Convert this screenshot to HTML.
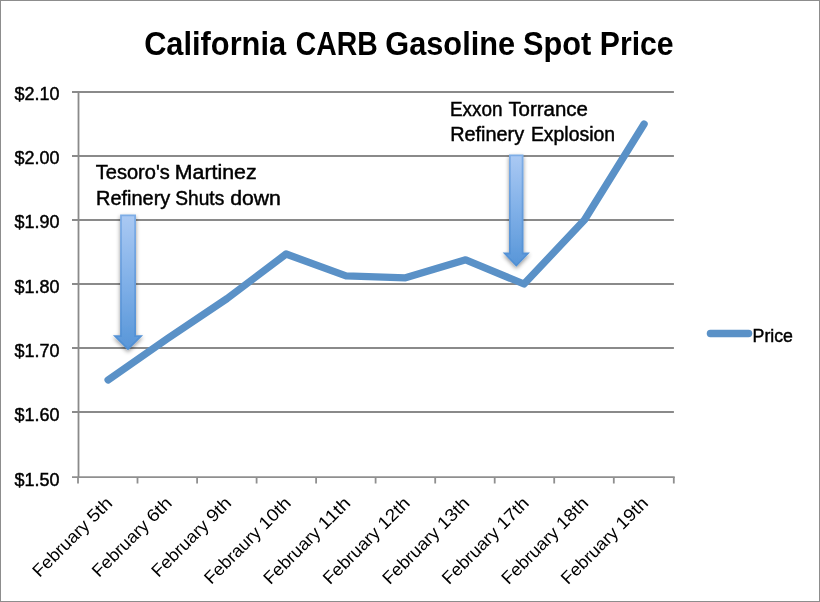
<!DOCTYPE html>
<html lang="en"><head><meta charset="utf-8"><title>California CARB Gasoline Spot Price</title>
<style>
html,body{margin:0;padding:0;background:#fff;}
body{width:820px;height:602px;overflow:hidden;}
svg{display:block;}
text{font-family:"Liberation Sans",sans-serif;fill:#000;}
.ax{font-size:17.6px;stroke:#000;stroke-width:0.45px;}
.an{font-size:19.5px;stroke:#000;stroke-width:0.45px;}
.ay{font-size:17.75px;stroke:#000;stroke-width:0.45px;}
.rx{font-size:17.6px;stroke:#000;stroke-width:0;}
.ti{font-size:32.5px;font-weight:bold;}
</style></head><body>
<svg width="820" height="602" viewBox="0 0 820 602">
<defs>
<linearGradient id="ag" x1="0" y1="0" x2="0" y2="1">
<stop offset="0" stop-color="#aac9f3"/><stop offset="0.5" stop-color="#80b0e8"/><stop offset="1" stop-color="#5896d8"/>
</linearGradient>
<linearGradient id="as" x1="0" y1="0" x2="0" y2="1">
<stop offset="0" stop-color="#7eade6"/><stop offset="0.5" stop-color="#669cdb"/><stop offset="1" stop-color="#4f8fd4"/>
</linearGradient>
<filter id="sh" x="-50%" y="-10%" width="200%" height="130%">
<feGaussianBlur in="SourceAlpha" stdDeviation="2"/><feOffset dx="0" dy="1.5"/>
<feComponentTransfer><feFuncA type="linear" slope="0.42"/></feComponentTransfer>
<feMerge><feMergeNode/><feMergeNode in="SourceGraphic"/></feMerge>
</filter>
</defs>
<rect x="0" y="0" width="820" height="602" fill="#fff"/>

<line x1="72.0" y1="412.00" x2="673.9" y2="412.00" stroke="#8a8a8a" stroke-width="2"/>
<line x1="72.0" y1="348.00" x2="673.9" y2="348.00" stroke="#8a8a8a" stroke-width="2"/>
<line x1="72.0" y1="284.00" x2="673.9" y2="284.00" stroke="#8a8a8a" stroke-width="2"/>
<line x1="72.0" y1="220.00" x2="673.9" y2="220.00" stroke="#8a8a8a" stroke-width="2"/>
<line x1="72.0" y1="156.00" x2="673.9" y2="156.00" stroke="#8a8a8a" stroke-width="2"/>
<line x1="72.0" y1="92.00" x2="673.9" y2="92.00" stroke="#8a8a8a" stroke-width="2"/>
<line x1="72.0" y1="477.05" x2="674.7" y2="477.05" stroke="#8f8f8f" stroke-width="1.8"/>
<line x1="78.5" y1="91" x2="78.5" y2="477.00" stroke="#8a8a8a" stroke-width="1.8"/>
<line x1="78.0" y1="477.0" x2="78.0" y2="483.5" stroke="#8f8f8f" stroke-width="1.8"/>
<line x1="137.5" y1="477.0" x2="137.5" y2="483.5" stroke="#8f8f8f" stroke-width="1.8"/>
<line x1="197.1" y1="477.0" x2="197.1" y2="483.5" stroke="#8f8f8f" stroke-width="1.8"/>
<line x1="256.6" y1="477.0" x2="256.6" y2="483.5" stroke="#8f8f8f" stroke-width="1.8"/>
<line x1="316.1" y1="477.0" x2="316.1" y2="483.5" stroke="#8f8f8f" stroke-width="1.8"/>
<line x1="375.6" y1="477.0" x2="375.6" y2="483.5" stroke="#8f8f8f" stroke-width="1.8"/>
<line x1="435.2" y1="477.0" x2="435.2" y2="483.5" stroke="#8f8f8f" stroke-width="1.8"/>
<line x1="494.7" y1="477.0" x2="494.7" y2="483.5" stroke="#8f8f8f" stroke-width="1.8"/>
<line x1="554.2" y1="477.0" x2="554.2" y2="483.5" stroke="#8f8f8f" stroke-width="1.8"/>
<line x1="613.8" y1="477.0" x2="613.8" y2="483.5" stroke="#8f8f8f" stroke-width="1.8"/>
<line x1="673.8" y1="477.0" x2="673.8" y2="483.5" stroke="#8f8f8f" stroke-width="1.8"/>
<text class="ay" y="485.62"><tspan x="14.57" textLength="44.93" lengthAdjust="spacingAndGlyphs">$1.50</tspan></text>
<text class="ay" y="421.30"><tspan x="14.57" textLength="44.93" lengthAdjust="spacingAndGlyphs">$1.60</tspan></text>
<text class="ay" y="356.98"><tspan x="14.57" textLength="44.93" lengthAdjust="spacingAndGlyphs">$1.70</tspan></text>
<text class="ay" y="292.66"><tspan x="14.57" textLength="44.93" lengthAdjust="spacingAndGlyphs">$1.80</tspan></text>
<text class="ay" y="228.34"><tspan x="14.57" textLength="44.93" lengthAdjust="spacingAndGlyphs">$1.90</tspan></text>
<text class="ay" y="164.02"><tspan x="14.57" textLength="44.93" lengthAdjust="spacingAndGlyphs">$2.00</tspan></text>
<text class="ay" y="99.70"><tspan x="14.57" textLength="44.93" lengthAdjust="spacingAndGlyphs">$2.10</tspan></text>
<g transform="translate(39.54,578.02) rotate(-45)">
<text class="rx" y="0.00"><tspan x="-0.04" textLength="72.44" lengthAdjust="spacingAndGlyphs">February</tspan> <tspan x="77.10" textLength="27.34" lengthAdjust="spacingAndGlyphs">5th</tspan></text>
</g>
<g transform="translate(99.07,578.02) rotate(-45)">
<text class="rx" y="0.00"><tspan x="-0.04" textLength="72.44" lengthAdjust="spacingAndGlyphs">February</tspan> <tspan x="76.95" textLength="27.50" lengthAdjust="spacingAndGlyphs">6th</tspan></text>
</g>
<g transform="translate(158.60,578.02) rotate(-45)">
<text class="rx" y="0.00"><tspan x="-0.04" textLength="72.44" lengthAdjust="spacingAndGlyphs">February</tspan> <tspan x="77.34" textLength="27.09" lengthAdjust="spacingAndGlyphs">9th</tspan></text>
</g>
<g transform="translate(211.25,584.90) rotate(-45)">
<text class="rx" y="0.00"><tspan x="-0.03" textLength="72.06" lengthAdjust="spacingAndGlyphs">Febraury</tspan> <tspan x="76.91" textLength="37.28" lengthAdjust="spacingAndGlyphs">10th</tspan></text>
</g>
<g transform="translate(270.49,585.19) rotate(-45)">
<text class="rx" y="0.00"><tspan x="-0.04" textLength="72.44" lengthAdjust="spacingAndGlyphs">February</tspan> <tspan x="77.26" textLength="37.32" lengthAdjust="spacingAndGlyphs">11th</tspan></text>
</g>
<g transform="translate(330.02,585.19) rotate(-45)">
<text class="rx" y="0.00"><tspan x="-0.04" textLength="72.44" lengthAdjust="spacingAndGlyphs">February</tspan> <tspan x="77.32" textLength="37.28" lengthAdjust="spacingAndGlyphs">12th</tspan></text>
</g>
<g transform="translate(389.55,585.19) rotate(-45)">
<text class="rx" y="0.00"><tspan x="-0.04" textLength="72.44" lengthAdjust="spacingAndGlyphs">February</tspan> <tspan x="77.32" textLength="37.28" lengthAdjust="spacingAndGlyphs">13th</tspan></text>
</g>
<g transform="translate(449.08,585.19) rotate(-45)">
<text class="rx" y="0.00"><tspan x="-0.04" textLength="72.44" lengthAdjust="spacingAndGlyphs">February</tspan> <tspan x="77.32" textLength="37.28" lengthAdjust="spacingAndGlyphs">17th</tspan></text>
</g>
<g transform="translate(508.61,585.19) rotate(-45)">
<text class="rx" y="0.00"><tspan x="-0.04" textLength="72.44" lengthAdjust="spacingAndGlyphs">February</tspan> <tspan x="77.32" textLength="37.28" lengthAdjust="spacingAndGlyphs">18th</tspan></text>
</g>
<g transform="translate(568.14,585.19) rotate(-45)">
<text class="rx" y="0.00"><tspan x="-0.04" textLength="72.44" lengthAdjust="spacingAndGlyphs">February</tspan> <tspan x="77.32" textLength="37.28" lengthAdjust="spacingAndGlyphs">19th</tspan></text>
</g>
<polyline points="108.1,380.0 167.6,338.6 227.0,298.6 286.1,254.0 346.0,275.9 405.5,277.8 465.7,259.8 524.0,284.0 584.6,219.8 644.1,124.0" fill="none" stroke="#5a91c7" stroke-width="7.3" stroke-linecap="round" stroke-linejoin="round"/>
<path filter="url(#sh)" d="M121.0,215.3 H135.1 V336.2 H140.9 L128.0,348.9 L115.1,336.2 H121.0 Z" fill="url(#ag)" stroke="url(#as)" stroke-width="1.8"/>
<path filter="url(#sh)" d="M509.9,155.3 H522.6 V253.5 H527.8 L516.3,265.5 L504.8,253.5 H509.9 Z" fill="url(#ag)" stroke="url(#as)" stroke-width="1.8"/>
<text class="an" y="179.40"><tspan x="95.71" textLength="74.06" lengthAdjust="spacingAndGlyphs">Tesoro&#39;s</tspan> <tspan x="174.82" textLength="81.80" lengthAdjust="spacingAndGlyphs">Martinez</tspan></text>
<text class="an" y="205.30"><tspan x="96.14" textLength="74.15" lengthAdjust="spacingAndGlyphs">Refinery</tspan> <tspan x="175.24" textLength="48.99" lengthAdjust="spacingAndGlyphs">Shuts</tspan> <tspan x="230.18" textLength="50.67" lengthAdjust="spacingAndGlyphs">down</tspan></text>
<text class="an" y="115.50"><tspan x="450.02" textLength="52.54" lengthAdjust="spacingAndGlyphs">Exxon</tspan> <tspan x="508.41" textLength="79.51" lengthAdjust="spacingAndGlyphs">Torrance</tspan></text>
<text class="an" y="141.30"><tspan x="450.15" textLength="73.94" lengthAdjust="spacingAndGlyphs">Refinery</tspan> <tspan x="530.88" textLength="84.19" lengthAdjust="spacingAndGlyphs">Explosion</tspan></text>
<text class="ti" y="54.80"><tspan x="144.15" textLength="141.94" lengthAdjust="spacingAndGlyphs">California</tspan> <tspan x="295.83" textLength="81.89" lengthAdjust="spacingAndGlyphs">CARB</tspan> <tspan x="385.31" textLength="129.76" lengthAdjust="spacingAndGlyphs">Gasoline</tspan> <tspan x="523.10" textLength="68.26" lengthAdjust="spacingAndGlyphs">Spot</tspan> <tspan x="599.75" textLength="73.90" lengthAdjust="spacingAndGlyphs">Price</tspan></text>
<line x1="710.4" y1="333.5" x2="748.6" y2="333.5" stroke="#5a91c7" stroke-width="7.3" stroke-linecap="round"/>
<text class="ax" y="342.30"><tspan x="752.59" textLength="40.42" lengthAdjust="spacingAndGlyphs">Price</tspan></text>
<rect x="0.5" y="0.5" width="819" height="601" fill="none" stroke="#8d8d8d" stroke-width="1"/>
</svg></body></html>
